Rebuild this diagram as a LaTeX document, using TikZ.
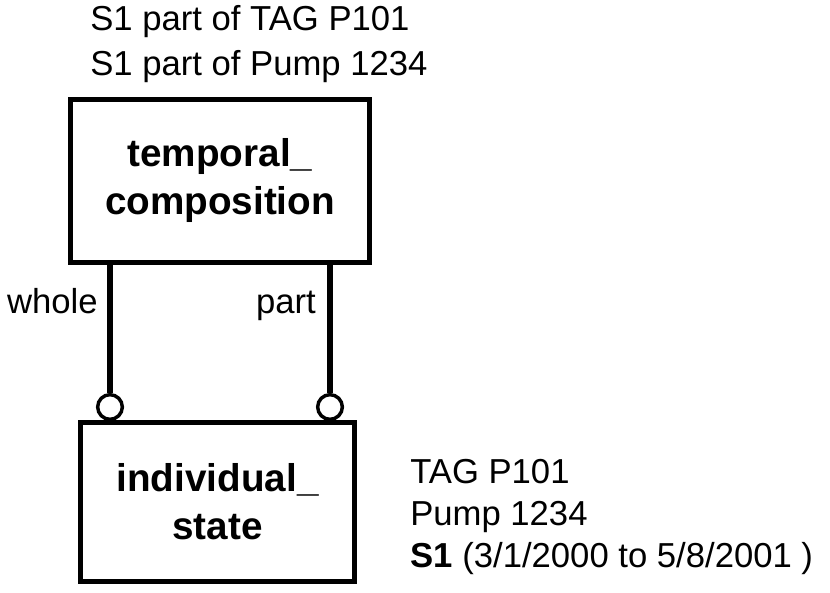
\documentclass[tikz,border=0pt]{standalone}
\usepackage{fontspec}
\setmainfont{Liberation Sans}
\usetikzlibrary{positioning}

\begin{document}
\begin{tikzpicture}[x=0.75pt,y=-0.75pt,
	box/.style={draw,line width=4pt,align=center,inner sep=0pt,
		font=\bfseries\fontsize{29}{36}\selectfont},
	txt/.style={inner sep=0pt,align=left,font=\fontsize{26}{33.75}\selectfont},
	knob/.style={circle,draw,fill=white,line width=2.6pt,inner sep=0pt,minimum size=18.5pt},
	link/.style={line width=4pt}]
	\useasboundingbox (0,0) rectangle (830,592);
	% Boxes
	\node (comp) [box,minimum width=224pt,minimum height=122pt] at (220,181) {temporal\_\\composition};
	\node (state) [box,minimum width=205.5pt,minimum height=119pt] at (217.5,502) {individual\_\\state};
	% Ends
	\node (w) [knob] at (110,407) {};
	\node (p) [knob] at (330,407) {};
	\draw[link] (comp.south -| w) -- (w);
	\draw[link] (comp.south -| p) -- (p);
	\node (wl) [txt,anchor=base east] at (98,313) {whole};
	\node (pl) [txt,anchor=base east] at (316,313) {part};
	% Notes
	\node (top) [txt,anchor=base west] at (90,75) {S1 part of TAG P101\\S1 part of Pump 1234};
	\node (inst) [txt,anchor=base west,font=\fontsize{26}{31.5}\selectfont] at (410,567) {TAG P101\\Pump 1234\\\textbf{S1} (3/1/2000 to 5/8/2001 )};
\end{tikzpicture}
\end{document}
